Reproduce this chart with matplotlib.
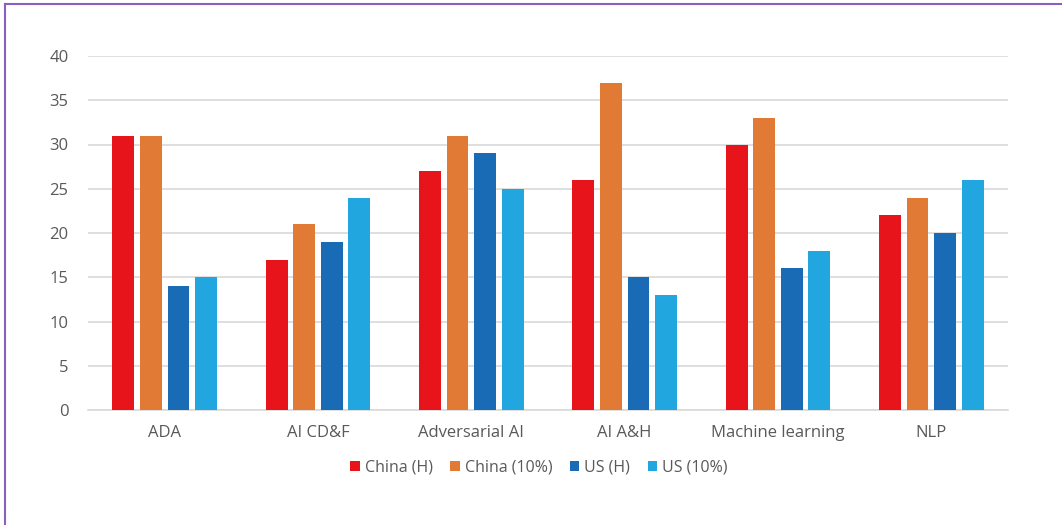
import matplotlib
matplotlib.use("Agg")
import matplotlib.pyplot as plt
import numpy as np
from matplotlib.lines import Line2D

plt.rcParams['font.family'] = ['Open Sans', 'DejaVu Sans']

categories = ["ADA", "AI CD&F", "Adversarial AI", "AI A&H", "Machine learning", "NLP"]
series_names = ["China (H)", "China (10%)", "US (H)", "US (10%)"]
china_h = [31, 17, 27, 26, 30, 22]
china_10 = [31, 21, 31, 37, 33, 24]
us_h = [14, 19, 29, 15, 16, 20]
us_10 = [15, 24, 25, 13, 18, 26]
colors = ["#E8141C", "#E07A34", "#1A6BB5", "#22A6E0"]
yticks = [0, 5, 10, 15, 20, 25, 30, 35, 40]

fig = plt.figure(figsize=(10.62, 5.25), dpi=100)
ax = fig.add_axes([88/1062, 1-410/525, 920/1062, 354/525])

x = np.arange(len(categories))
step = 0.18
width = 0.143
for i, (vals, name, c) in enumerate(zip([china_h, china_10, us_h, us_10], series_names, colors)):
    ax.bar(x + (i - 1.5) * step, vals, width=width, color=c, label=name, zorder=3)

ax.set_xlim(-0.5, len(categories) - 0.5)
ax.set_ylim(0, 40)
ax.set_yticks(yticks)
ax.yaxis.grid(True, color="#D9D9D9", linewidth=1.2, zorder=0)
ax.set_xticks(x)
ax.set_xticklabels(categories)
for s in ["top", "right", "left"]:
    ax.spines[s].set_visible(False)
ax.spines["bottom"].set_color("#D9D9D9")
ax.spines["bottom"].set_linewidth(1.2)
ax.tick_params(axis="both", length=0, labelsize=12, labelcolor="#595959")
ax.tick_params(axis="y", pad=14)
ax.tick_params(axis="x", pad=11)

leg = fig.legend(loc="center", bbox_to_anchor=(539/1062, 1-468/525), ncol=4, frameon=False,
                 fontsize=11.5, handlelength=0.6, handleheight=0.6, handletextpad=0.3, columnspacing=1.1)
for t in leg.get_texts():
    t.set_color("#595959")

# purple frame border (top and left)
fig.add_artist(Line2D([5/1062, 1], [1-4/525, 1-4/525], color="#8B5FBF", linewidth=1.5, transform=fig.transFigure))
fig.add_artist(Line2D([5/1062, 5/1062], [0, 1-4/525], color="#8B5FBF", linewidth=1.5, transform=fig.transFigure))

fig.savefig("out.png", dpi=100)
